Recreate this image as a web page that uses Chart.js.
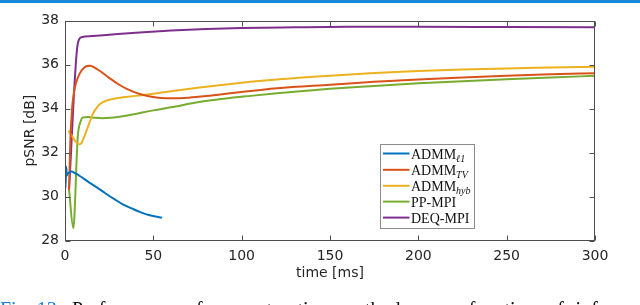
<!DOCTYPE html>
<html>
<head>
<meta charset="utf-8">
<script src="https://cdn.jsdelivr.net/npm/chart.js@4.4.1/dist/chart.umd.min.js"></script>
<style>
body{margin:0;background:#fff}
#wrap{position:relative;width:640px;height:305px}
</style>
</head>
<body>
<div id="wrap"><canvas id="psnr_chart"></canvas></div>
<script>
// values
const xTicks = [0, 50, 100, 150, 200, 250, 300];
const yTicks = [28, 30, 32, 34, 36, 38];

const time_l1 = [0, 0.3, 0.7, 1, 1.6, 2.5, 3.5, 6, 9, 13, 18, 23, 28, 33, 38, 43, 48, 55];
const psnr_l1 = [31.55, 30.4, 31.35, 30.95, 31.05, 31.1, 31.14, 31.05, 30.9, 30.68, 30.42, 30.14, 29.88, 29.63, 29.45, 29.28, 29.15, 29.04];

const time_tv = [2.3, 3, 4, 5, 6, 8, 10, 12, 14, 16, 20, 25, 30, 35, 40, 45, 50, 55, 60, 70, 80, 90, 100, 120, 150, 175, 200, 225, 250, 275, 300];
const psnr_tv = [30.3, 32.5, 34.0, 34.7, 35.1, 35.55, 35.8, 35.93, 35.95, 35.9, 35.7, 35.4, 35.12, 34.9, 34.73, 34.61, 34.53, 34.48, 34.47, 34.5, 34.57, 34.66, 34.76, 34.93, 35.09, 35.22, 35.33, 35.42, 35.5, 35.56, 35.61];

const time_hyb = [2, 4, 6, 8, 9, 10, 12, 14, 16, 18, 20, 23, 26, 30, 40, 50, 60, 75, 90, 105, 120, 150, 175, 200, 225, 250, 275, 300];
const psnr_hyb = [33.0, 32.75, 32.5, 32.38, 32.4, 32.55, 32.95, 33.4, 33.8, 34.05, 34.22, 34.35, 34.42, 34.48, 34.58, 34.68, 34.79, 34.95, 35.09, 35.22, 35.33, 35.5, 35.62, 35.71, 35.78, 35.83, 35.87, 35.91];

const time_pp = [2.3, 4.7, 7.2, 9, 10, 13, 17, 21, 26, 32, 40, 50, 60, 76, 90, 105, 120, 150, 175, 200, 225, 250, 275, 300];
const psnr_pp = [30.3, 28.56, 32.7, 33.45, 33.6, 33.62, 33.58, 33.56, 33.58, 33.64, 33.76, 33.92, 34.06, 34.3, 34.45, 34.58, 34.7, 34.9, 35.03, 35.15, 35.25, 35.34, 35.42, 35.49];

const time_deq = [2.3, 7.2, 9.4, 15, 25, 40, 60, 80, 100, 130, 160, 200, 250, 300];
const psnr_deq = [30.34, 36.94, 37.25, 37.3, 37.36, 37.45, 37.55, 37.62, 37.67, 37.7, 37.72, 37.72, 37.71, 37.7];

const legendMain = ['ADMM', 'ADMM', 'ADMM', 'PP-MPI', 'DEQ-MPI'];
const legendSub  = ['\u21131', 'TV', 'hyb', '', ''];
const lineColors = ['#0072BD', '#D95319', '#EDB120', '#77AC30', '#7E2F8E'];

const allTimes = [time_l1, time_tv, time_hyb, time_pp, time_deq];
const allPsnr  = [psnr_l1, psnr_tv, psnr_hyb, psnr_pp, psnr_deq];

const toPoints = (ts, ys) => ts.map((t, i) => ({x: t, y: ys[i]}));

// frame, inward ticks, titles, legend and caption
const figurePlugin = {
    id: 'figure',
    afterDatasetsDraw(chart){
        const {ctx, chartArea: a, scales: {x, y}} = chart;
        const L = Math.round(a.left) + 0.5, R = Math.round(a.right) - 0.5;
        const T = Math.round(a.top) + 0.5, B = Math.round(a.bottom) - 0.5;
        ctx.save();
        ctx.strokeStyle = '#4d4d4d';
        ctx.lineWidth = 1;
        ctx.strokeRect(L, T, R - L, B - T);
        ctx.beginPath();
        xTicks.forEach(v => {
            const px = Math.round(x.getPixelForValue(v)) + 0.5;
            ctx.moveTo(px, B); ctx.lineTo(px, B - 5);
            ctx.moveTo(px, T); ctx.lineTo(px, T + 5);
        });
        yTicks.forEach(v => {
            const py = Math.round(y.getPixelForValue(v)) + 0.5;
            ctx.moveTo(L, py); ctx.lineTo(L + 5, py);
            ctx.moveTo(R, py); ctx.lineTo(R - 5, py);
        });
        ctx.stroke();

        // axis titles
        ctx.fillStyle = '#262626';
        ctx.font = '14px "DejaVu Sans"';
        ctx.textAlign = 'center';
        ctx.textBaseline = 'middle';
        ctx.fillText('time [ms]', (a.left + a.right) / 2, 273);
        ctx.translate(30.5, (a.top + a.bottom) / 2);
        ctx.rotate(-Math.PI / 2);
        ctx.fillText('pSNR [dB]', 0, 0);
        ctx.restore();
    },
    afterDraw(chart){
        const {ctx} = chart;
        ctx.save();
        // strip of the page above the figure
        ctx.fillStyle = '#1b87d9';
        ctx.fillRect(0, 0, 640, 3);

        // legend
        ctx.fillStyle = '#fff';
        ctx.fillRect(380, 144, 95, 84);
        ctx.strokeStyle = '#8c8c8c';
        ctx.lineWidth = 1;
        ctx.strokeRect(380.5, 144.5, 94, 84);
        const rows = [153.5, 169.8, 185.8, 201.6, 217.6];
        rows.forEach((ry, i) => {
            ctx.strokeStyle = lineColors[i];
            ctx.lineWidth = 2;
            ctx.beginPath();
            ctx.moveTo(383, ry); ctx.lineTo(409.5, ry);
            ctx.stroke();
            ctx.fillStyle = '#111';
            ctx.textAlign = 'left';
            ctx.textBaseline = 'alphabetic';
            ctx.font = '14px "Liberation Serif"';
            ctx.fillText(legendMain[i], 411, ry + 5);
            if(legendSub[i]){
                const w = ctx.measureText(legendMain[i]).width;
                ctx.font = 'italic 10px "Liberation Serif"';
                ctx.fillText(legendSub[i], 411 + w, ry + 8);
            }
        });

        // caption (mostly cut off at the bottom)
        ctx.textBaseline = 'alphabetic';
        ctx.textAlign = 'left';
        ctx.font = '20px "Liberation Serif"';
        ctx.fillStyle = '#1a7fd4';
        ctx.fillText('Fig. 13:', 0, 316);
        ctx.fillStyle = '#111';
        const words = 'Performance of reconstruction methods as a function of inference'.split(' ');
        const widths = words.map(w => ctx.measureText(w).width);
        const total = widths.reduce((s, w) => s + w, 0);
        const gap = (650 - 72 - total) / (words.length - 1);
        let cx = 72;
        words.forEach((w, i) => { ctx.fillText(w, cx, 316); cx += widths[i] + gap; });
        ctx.restore();
    }
};

const psnr_chart = document.getElementById('psnr_chart');
const psnr_chart_ref = new Chart(psnr_chart, {
    type: 'line',
    data: {
        datasets: allTimes.map((ts, i) => ({
            label: legendMain[i] + legendSub[i],
            data: toPoints(ts, allPsnr[i]),
            borderColor: lineColors[i],
            backgroundColor: lineColors[i],
            borderWidth: 2,
            pointRadius: 0,
            fill: false,
            cubicInterpolationMode: 'monotone'
        }))
    },
    options: {
        responsive: true,
        maintainAspectRatio: false,
        animation: false,
        events: [],
        layout: {padding: {left: 0, right: 45, top: 20.7, bottom: 0}},
        plugins: {legend: {display: false}, tooltip: {enabled: false}},
        scales: {
            x: {
                type: 'linear', min: 0, max: 300,
                afterBuildTicks: s => { s.ticks = xTicks.map(v => ({value: v})); },
                afterFit: s => { s.height = 64.5; },
                grid: {display: false, drawTicks: false},
                border: {display: false},
                ticks: {padding: 7, color: '#262626', font: {family: 'DejaVu Sans', size: 14}, maxRotation: 0}
            },
            y: {
                type: 'linear', min: 28, max: 38,
                afterBuildTicks: s => { s.ticks = yTicks.map(v => ({value: v})); },
                afterFit: s => { s.width = 65; },
                grid: {display: false, drawTicks: false},
                border: {display: false},
                ticks: {padding: 6, color: '#262626', font: {family: 'DejaVu Sans', size: 14}}
            }
        }
    },
    plugins: [figurePlugin]
});
</script>
</body>
</html>
